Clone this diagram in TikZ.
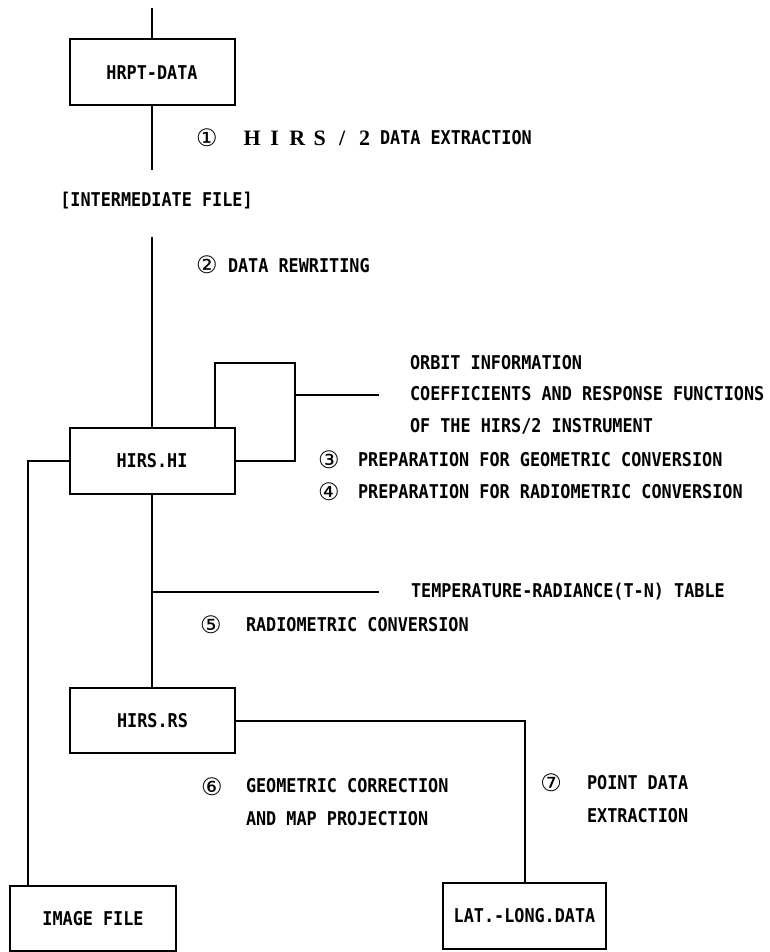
\documentclass[tikz,border=0pt]{standalone}
\usepackage{fontspec}
\usetikzlibrary{calc}
\newfontfamily\dfont{DejaVu Sans Mono}[FakeStretch=0.885]
\newfontfamily\cfont{DejaVu Sans}
\newfontfamily\serfont{Liberation Serif}
\newcommand{\spl}[1]{\makebox[22.5pt][c]{#1}}
\begin{document}
\begin{tikzpicture}[x=1pt,y=-1pt,line width=2pt,
  txt/.style={inner sep=0pt,font=\dfont\bfseries\fontsize{19}{20}\selectfont,text height=13.8pt,text depth=0pt},
  lbl/.style={txt,anchor=west},
  num/.style={inner sep=0pt,font=\cfont\fontsize{24}{24}\selectfont},
  box/.style={txt,draw,line width=2pt,minimum width=165pt,minimum height=66pt}]
\useasboundingbox (0,0) rectangle (770,952);

% boxes
\node[box] (hrpt) at (152,72.5) {HRPT-DATA};
\node[box] (hi) at (152,461) {HIRS.HI};
\node[box,minimum height=65pt] (rs) at (152.5,720.5) {HIRS.RS};
\node[box,minimum width=166pt,minimum height=65pt] (img) at (93,918.5) {IMAGE FILE};
\node[box,minimum width=163pt] (lat) at (524.5,916) {LAT.-LONG.DATA};
\node[txt] (inter) at (156.5,200) {[INTERMEDIATE FILE]};

% coordinates for free ends
\coordinate (t0) at (152,8);
\coordinate (m1) at (152,170);
\coordinate (m2) at (152,237);
\coordinate (bk) at (295,363);
\coordinate (i1) at (295,395);
\coordinate (i2) at (379,395);
\coordinate (tj) at (152,592);
\coordinate (tb) at (379,592);

% connectors
\draw (t0) -- (hrpt.north);
\draw (hrpt.south) -- (m1);
\draw (m2) -- (hi.north);
\draw ($(hi.north east)+(-21,0)$) |- (bk) |- (hi.east);
\draw (i1) -- (i2);
\draw (hi.west) -| ($(img.north west)+(19,0)$);
\draw (hi.south) -- (hi.south |- rs.north);
\draw (tj) -- (tb);
\draw ($(rs.south)+(2,0)$) -- ($(rs.south)+(2,0)$ |- img.north);
\draw (rs.east) -| (lat.north);

% labels
\node[num] (n1) at (207,138) {①};
\node[anchor=west,inner sep=0pt,font=\serfont\bfseries\fontsize{22}{22}\selectfont,text height=14.5pt,text depth=0pt] (hirs) at (240,138) {\spl{H}\spl{I}\spl{R}\spl{S}\spl{/}\spl{2}};
\node[lbl] (l1) at (379,138) {DATA EXTRACTION};
\node[num] (n2) at (207,265) {②};
\node[lbl] (l2) at (227,266) {DATA REWRITING};
\node[lbl] (o1) at (409,363) {ORBIT INFORMATION};
\node[lbl] (o2) at (409,394) {COEFFICIENTS AND RESPONSE FUNCTIONS};
\node[lbl] (o3) at (409,426) {OF THE HIRS/2 INSTRUMENT};
\node[num] (n3) at (329,460) {③};
\node[lbl] (l3) at (357,460) {PREPARATION FOR GEOMETRIC CONVERSION};
\node[num] (n4) at (329,492) {④};
\node[lbl] (l4) at (357,492) {PREPARATION FOR RADIOMETRIC CONVERSION};
\node[lbl] (tt) at (410,591) {TEMPERATURE-RADIANCE(T-N) TABLE};
\node[num] (n5) at (211,625) {⑤};
\node[lbl] (l5) at (245,625) {RADIOMETRIC CONVERSION};
\node[num] (n6) at (212,787) {⑥};
\node[lbl] (l6a) at (245,786) {GEOMETRIC CORRECTION};
\node[lbl] (l6b) at (245,819) {AND MAP PROJECTION};
\node[num] (n7) at (551,783) {⑦};
\node[lbl] (l7a) at (586,783) {POINT DATA};
\node[lbl] (l7b) at (586,816) {EXTRACTION};
\end{tikzpicture}
\end{document}
